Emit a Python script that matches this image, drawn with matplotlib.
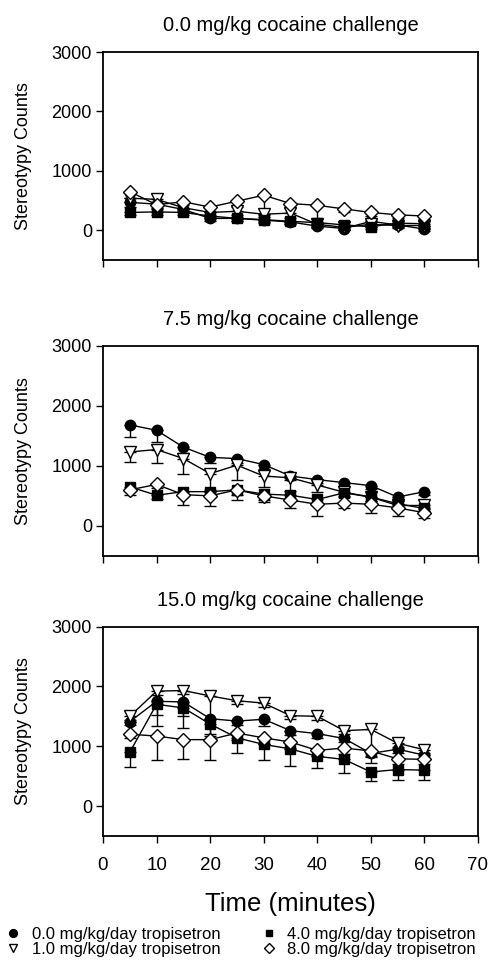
import matplotlib
matplotlib.use("Agg")
import matplotlib.pyplot as plt
import numpy as np
from matplotlib.lines import Line2D

plt.rcParams['font.family'] = ['Liberation Sans', 'DejaVu Sans']

times = [5, 10, 15, 20, 25, 30, 35, 40, 45, 50, 55, 60]
titles = ["0.0 mg/kg cocaine challenge", "7.5 mg/kg cocaine challenge",
          "15.0 mg/kg cocaine challenge"]
series_labels = ["0.0 mg/kg/day tropisetron", "1.0 mg/kg/day tropisetron",
                 "4.0 mg/kg/day tropisetron", "8.0 mg/kg/day tropisetron"]

# Panel 1: 0.0 mg/kg cocaine
circ1 = [470, 440, 350, 200, 200, 170, 140, 70, 30, 150, 90, 20]
circ1_err = [80, 60, 50, 40, 40, 40, 40, 30, 30, 60, 40, 30]
tri1 = [540, 520, 380, 300, 320, 270, 290, 100, 50, 100, 80, 80]
tri1_err = [60, 60, 60, 50, 60, 50, 80, 40, 40, 40, 40, 40]
sq1 = [300, 310, 300, 240, 200, 180, 150, 130, 90, 60, 120, 110]
sq1_err = [50, 50, 50, 40, 40, 40, 40, 30, 30, 30, 30, 30]
dia1 = [650, 430, 480, 390, 490, 590, 450, 420, 360, 300, 260, 240]
dia1_err = [100, 80, 60, 80, 100, 340, 80, 280, 60, 60, 50, 50]

# Panel 2: 7.5 mg/kg cocaine
circ2 = [1680, 1590, 1310, 1140, 1120, 1020, 830, 770, 720, 670, 480, 570]
circ2_err = [200, 200, 100, 100, 80, 80, 60, 60, 60, 60, 60, 60]
tri2 = [1230, 1270, 1120, 870, 1010, 830, 800, 680, 560, 480, 340, 340]
tri2_err = [160, 230, 260, 280, 250, 190, 220, 120, 80, 60, 60, 60]
sq2 = [650, 510, 570, 570, 600, 530, 510, 440, 550, 480, 370, 290]
sq2_err = [60, 70, 60, 60, 80, 100, 60, 80, 60, 60, 50, 50]
dia2 = [600, 690, 520, 500, 600, 500, 430, 360, 380, 360, 300, 220]
dia2_err = [90, 60, 180, 170, 170, 110, 140, 190, 80, 140, 140, 90]

# Panel 3: 15.0 mg/kg cocaine
circ3 = [1410, 1750, 1740, 1460, 1420, 1450, 1260, 1210, 1130, 880, 950, 850]
circ3_err = [60, 230, 230, 250, 60, 120, 80, 80, 60, 60, 60, 60]
tri3 = [1500, 1920, 1930, 1840, 1760, 1720, 1510, 1500, 1260, 1280, 1050, 940]
tri3_err = [60, 60, 60, 380, 60, 60, 60, 60, 60, 450, 60, 60]
sq3 = [900, 1700, 1640, 1370, 1140, 1030, 955, 830, 780, 570, 610, 600]
sq3_err = [250, 360, 330, 200, 260, 260, 280, 190, 220, 150, 170, 160]
dia3 = [1200, 1170, 1110, 1110, 1220, 1140, 1070, 930, 970, 920, 790, 780]
dia3_err = [60, 400, 330, 340, 120, 100, 100, 100, 100, 200, 80, 80]

panels = [
    [(circ1, circ1_err), (tri1, tri1_err), (sq1, sq1_err), (dia1, dia1_err)],
    [(circ2, circ2_err), (tri2, tri2_err), (sq2, sq2_err), (dia2, dia2_err)],
    [(circ3, circ3_err), (tri3, tri3_err), (sq3, sq3_err), (dia3, dia3_err)],
]

styles = [
    dict(marker='o', mfc='black', ms=7.5),
    dict(marker='v', mfc='white', ms=8.5),
    dict(marker='s', mfc='black', ms=6.5),
    dict(marker='D', mfc='white', ms=7),
]

W, H = 502, 967
fig = plt.figure(figsize=(W / 100, H / 100), dpi=100)
left = 103 / W
width = 375 / W
boxes = [(52, 260), (345.5, 556), (626.5, 836)]

for i, (top, bot) in enumerate(boxes):
    ax = fig.add_axes([left, 1 - bot / H, width, (bot - top) / H])
    for (vals, errs), st in zip(panels[i], styles):
        zeros = [0] * len(errs)
        ax.errorbar(times, vals, yerr=[errs, zeros], fmt='none', ecolor='black',
                    elinewidth=1, capsize=4, capthick=1, zorder=2)
        ax.plot(times, vals, color='black', lw=1, marker=st['marker'],
                mfc=st['mfc'], mec='black', mew=1, ms=st['ms'], zorder=3)
    ax.set_xlim(0, 70)
    ax.set_ylim(-500, 3000)
    ax.set_yticks([0, 1000, 2000, 3000])
    ax.set_xticks(range(0, 71, 10))
    ax.tick_params(direction='out', length=5, width=1, top=False, right=False,
                   labelsize=13, pad=3)
    for sp in ax.spines.values():
        sp.set_linewidth(1.3)
    ax.set_ylabel("Stereotypy Counts", fontsize=13, labelpad=14)
    ax.set_title(titles[i], fontsize=14.5, pad=15)
    if i < 2:
        ax.set_xticklabels([])
    else:
        ax.tick_params(axis='x', labelsize=13.5, pad=10)
        ax.set_xlabel("Time (minutes)", fontsize=18.5, labelpad=13)

handles = [Line2D([], [], ls='none', marker=st['marker'], mfc=st['mfc'],
                  mec='black', mew=1, ms=st['ms'] * 0.75, color='black')
           for st in styles]
leg_kw = dict(frameon=False, fontsize=12, handlelength=0.8, handletextpad=0.7,
              labelspacing=0.0, borderpad=0, borderaxespad=0, loc='upper left')
leg1 = fig.legend(handles[:2], series_labels[:2],
                  bbox_to_anchor=(6.5 / W, 1 - 927 / H), **leg_kw)
leg2 = fig.legend(handles[2:], series_labels[2:],
                  bbox_to_anchor=(262.5 / W, 1 - 927 / H), **leg_kw)

fig.savefig("out.png", dpi=100)
